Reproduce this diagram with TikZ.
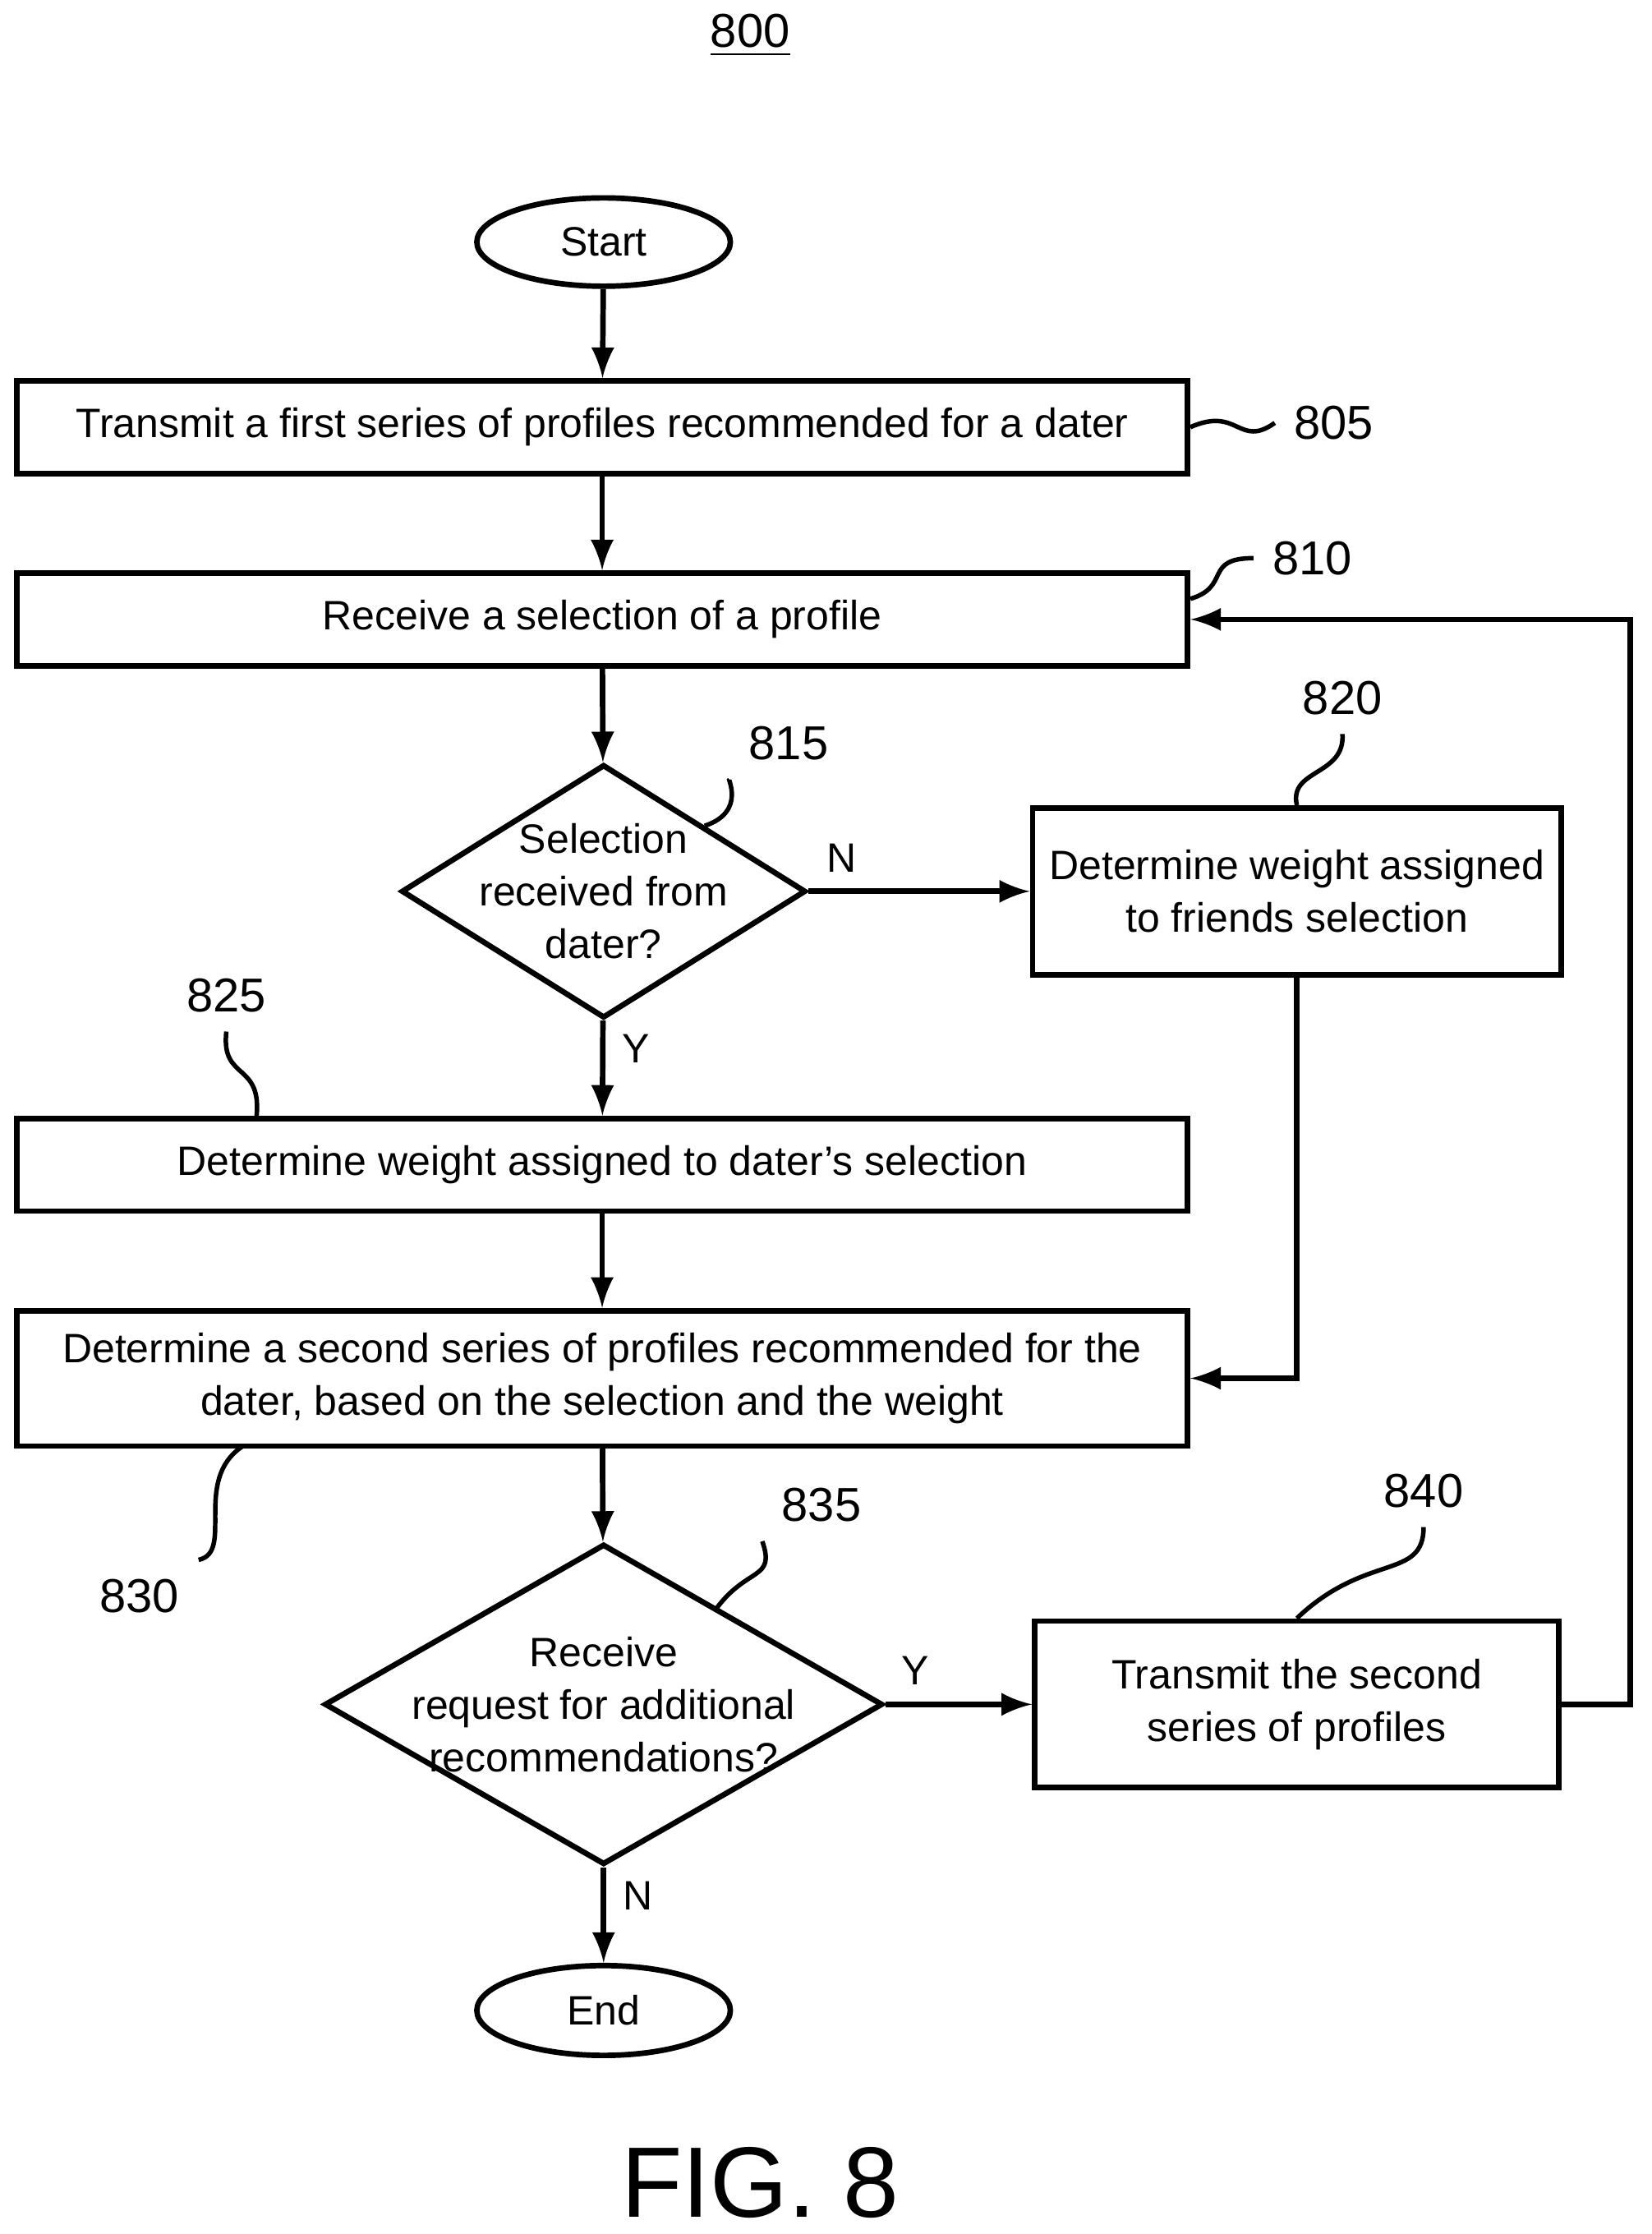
\documentclass[tikz,border=0pt]{standalone}
\usepackage{fontspec}
\setmainfont{Liberation Sans}
\usepackage{tikz}
\usetikzlibrary{shapes,arrows,positioning}

\begin{document}
\begin{tikzpicture}[
    x=0.01cm, y=-0.01cm,
    line width=1.1pt,
    font=\fontsize{8.2}{10.5}\selectfont,
    process/.style={rectangle, draw, minimum width=8.22cm, minimum height=0.65cm, align=center, inner sep=2pt},
    sideprocess/.style={rectangle, draw, minimum width=3.68cm, minimum height=1.17cm, align=center},
    decision/.style={diamond, draw, aspect=1.6, inner sep=-0.25cm, align=center},
    terminal/.style={ellipse, draw, minimum width=1.78cm, minimum height=0.62cm},
    flow/.style={-latex},
    leader/.style={line width=0.9pt},
    refnum/.style={font=\fontsize{9.5}{12}\selectfont}
]
\useasboundingbox (0,0) rectangle (1160,1569);

\node[refnum] (title) at (527,25) {\underline{800}};

\node[terminal] (start) at (424,170) {Start};
\node[process] (transmit) at (423,300) {Transmit a first series of profiles recommended for a dater};
\node[process] (receive) at (423,435) {Receive a selection of a profile};
\node[decision, minimum width=2.84cm, minimum height=1.78cm] (fromdater) at (424,626) {Selection\\received from\\dater?};
\node[sideprocess] (friends) at (911,626) {Determine weight assigned\\to friends selection};
\node[process] (daterw) at (423,818) {Determine weight assigned to dater's selection};
\node[process, minimum height=0.95cm] (second) at (423,968) {Determine a second series of profiles recommended for the\\dater, based on the selection and the weight};
\node[decision, minimum width=3.92cm, minimum height=2.25cm] (more) at (424,1197) {Receive\\request for additional\\recommendations?};
\node[sideprocess] (sendsecond) at (911,1197) {Transmit the second\\series of profiles};
\node[terminal] (end) at (424,1412) {End};

\node[font=\fontsize{20}{24}\selectfont] (fig) at (534,1533) {FIG. 8};

% flow
\draw[flow] (start) -- (transmit);
\draw[flow] (transmit) -- (receive);
\draw[flow] (receive) -- (fromdater);
\draw[flow] (fromdater) -- node[pos=0.15, above] {N} (friends);
\draw[flow] (fromdater) -- node[pos=0.3, right] {Y} (daterw);
\draw[flow] (daterw) -- (second);
\draw[flow] (friends.south) |- (second.east);
\draw[flow] (second) -- (more);
\draw[flow] (more) -- node[pos=0.2, above] {Y} (sendsecond);
\draw[flow] (more) -- node[pos=0.3, right] {N} (end);
\coordinate (loopcorner) at (1145,1197);
\draw[flow] (sendsecond.east) -- (loopcorner) |- (receive.east);

% reference numerals
\node[refnum] (n805) at (937,297) {805};
\node[refnum] (n810) at (922,392) {810};
\node[refnum] (n815) at (554,522) {815};
\node[refnum] (n820) at (943,490) {820};
\node[refnum] (n825) at (159,699) {825};
\node[refnum] (n830) at (98,1121) {830};
\node[refnum] (n835) at (577,1057) {835};
\node[refnum] (n840) at (1000,1047) {840};

\draw[leader] (transmit.east) .. controls (870,285) and (870,315) .. (n805.west);
\draw[leader] ([yshift=-0.2cm]receive.north east) .. controls (865,412) and (845,392) .. (n810.west);
\draw[leader] (495,580) .. controls (525,570) and (510,545) .. (n815.south west);
\draw[leader] (friends.north) .. controls (905,540) and (945,545) .. (n820.south);
\draw[leader] (180,786) .. controls (185,745) and (155,760) .. (n825.south);
\draw[leader] (170,1016) .. controls (135,1040) and (165,1090) .. (n830.north east);
\draw[leader] (503,1130) .. controls (525,1100) and (545,1110) .. (n835.south west);
\draw[leader] (sendsecond.north) .. controls (960,1090) and (1000,1110) .. (n840.south);

\end{tikzpicture}
\end{document}
